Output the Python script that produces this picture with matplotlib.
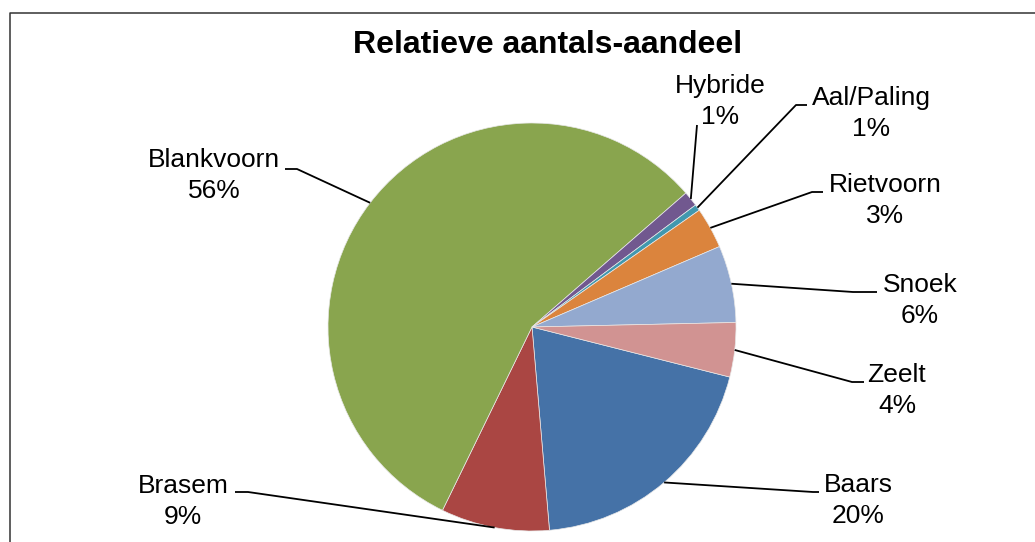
import numpy as np
import matplotlib
matplotlib.use("Agg")
import matplotlib.pyplot as plt

plt.rcParams['font.family'] = ['Liberation Sans', 'DejaVu Sans']

# Data (clockwise order, starting just below 3 o'clock)
species = ["Baars", "Brasem", "Blankvoorn", "Hybride", "Aal/Paling", "Rietvoorn", "Snoek", "Zeelt"]
shares = [19.7, 8.6, 56.4, 1.2, 0.5, 3.25, 6.1, 4.3]
pct_labels = ["20%", "9%", "56%", "1%", "1%", "3%", "6%", "4%"]
colors = ["#4572A7", "#AA4643", "#89A54E", "#71588F", "#4198AF", "#DB843D", "#93A9CF", "#D19392"]

W, H = 1035, 542
START = -14.2
CX, CY, R = 532, 327, 204   # pixel layout of the pie

# label layout: text centre x, first-line baseline y, elbow point, end of horizontal tail
label_pos = {
    "Baars":      (858, 492, (813, 492), (819, 492)),
    "Brasem":     (183, 493, (248, 492), (235, 492)),
    "Blankvoorn": (214, 167, (297, 169), (285, 169)),
    "Hybride":    (720, 93,  (697, 125), (697, 125)),
    "Aal/Paling": (871, 105, (796, 105), (807, 105)),
    "Rietvoorn":  (885, 192, (812, 192), (823, 192)),
    "Snoek":      (920, 292, (853, 292), (877, 292)),
    "Zeelt":      (897, 382, (852, 382), (864, 382)),
}


def py(y):
    return H - y


fig = plt.figure(figsize=(W / 100, H / 100), dpi=100)
ax = fig.add_axes([0, 0, 1, 1])

ax.pie(shares, colors=colors, startangle=START, counterclock=False,
       center=(CX, py(CY)), radius=R,
       wedgeprops=dict(edgecolor="#e8e8e8", linewidth=0.5))

# leader lines start at each wedge's mid angle on the rim
total = sum(shares)
cum = 0.0
for name, val, pct in zip(species, shares, pct_labels):
    mid = np.deg2rad(START - 360 * (cum + val / 2) / total)
    cum += val
    x0 = CX + R * np.cos(mid)
    y0 = CY - R * np.sin(mid)
    tx, ty, elbow, tail = label_pos[name]
    ax.plot([x0, elbow[0], tail[0]], [py(y0), py(elbow[1]), py(tail[1])],
            color="black", lw=1.3, solid_capstyle="butt", zorder=3)
    ax.text(tx, py(ty), name, ha="center", va="baseline", fontsize=19)
    ax.text(tx, py(ty + 31), pct, ha="center", va="baseline", fontsize=19)

ax.text(548, py(53), "Relatieve aantals-aandeel", ha="center", va="baseline",
        fontsize=23, fontweight="bold")

# chart frame (cropped on the right and bottom)
ax.plot([9.5, 9.5, W + 5], [py(H + 5), py(12.5), py(12.5)], color="#333333", lw=1.1)

ax.set_xlim(0, W)
ax.set_ylim(0, H)
ax.axis("off")

fig.savefig("out.png", dpi=100)
